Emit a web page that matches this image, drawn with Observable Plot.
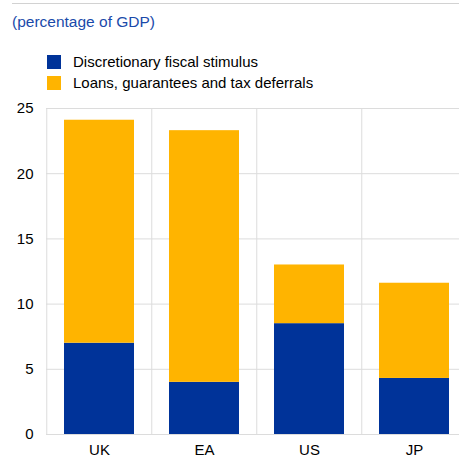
<!DOCTYPE html>
<html>
<head>
<meta charset="utf-8">
<script src="https://cdn.jsdelivr.net/npm/d3@7"></script>
<script src="https://cdn.jsdelivr.net/npm/@observablehq/plot@0.6"></script>
<style>
  html, body { margin: 0; padding: 0; background: #fff; overflow: hidden; }
  body { width: 459px; height: 459px; position: relative; font-family: "Liberation Sans", Arial, sans-serif; }
  #topline { position: absolute; left: 12px; width: 447px; top: 3px; height: 1px; background: #d2d2d2; }
  #subtitle { position: absolute; left: 12px; top: 13px; font-size: 15.5px; color: #1a4aaa; }
  #legend { position: absolute; left: 47px; top: 51px; font-size: 15px; color: #000; }
  .item { display: flex; align-items: center; height: 21.3px; }
  .sw { width: 14px; height: 14px; margin-right: 12px; }
  #chart { position: absolute; left: 0; top: 95px; width: 459px; height: 364px; overflow: hidden; }
</style>
</head>
<body>
<div id="topline"></div>
<div id="subtitle">(percentage of GDP)</div>
<div id="legend"></div>
<div id="chart"></div>
<script>
const countries = ["UK", "EA", "US", "JP"];
const seriesNames = ["Discretionary fiscal stimulus", "Loans, guarantees and tax deferrals"];
const stimulus = [7.0, 4.0, 8.5, 4.3];
const loans = [17.1, 19.3, 4.5, 7.3];
const colors = ["#003399", "#ffb400"];
const yTicks = [0, 5, 10, 15, 20, 25];

const data = [];
countries.forEach((c, i) => {
  data.push({country: c, series: seriesNames[0], value: stimulus[i]});
  data.push({country: c, series: seriesNames[1], value: loans[i]});
});

const legend = document.getElementById("legend");
seriesNames.forEach((s, i) => {
  const it = document.createElement("div");
  it.className = "item";
  it.innerHTML = `<div class="sw" style="background:${colors[i]}"></div><span>${s}</span>`;
  legend.appendChild(it);
});

const W = 459, H = 364, mL = 46, mR = -9;
const step = (W - mL - mR) / countries.length;

const chart = Plot.plot({
  width: W,
  height: H,
  marginLeft: mL,
  marginRight: mR,
  marginTop: 13,
  marginBottom: 25,
  style: {fontFamily: "Liberation Sans, Arial, sans-serif", fontSize: "15px", color: "#000", background: "#fff"},
  x: {domain: countries, paddingInner: 0.33, paddingOuter: 0.165, label: null, tickSize: 0, tickPadding: 10},
  y: {domain: [0, 25], ticks: yTicks, label: null, tickSize: 0, tickPadding: 13},
  color: {domain: seriesNames, range: colors},
  marks: [
    Plot.ruleY(yTicks, {stroke: "#dcdcdc", strokeWidth: 1}),
    Plot.ruleX(countries, {x: d => d, dx: -step / 2, stroke: "#dcdcdc", strokeWidth: 1}),
    Plot.barY(data, {x: "country", y: "value", fill: "series"}),
    Plot.axisY({ticks: yTicks, tickSize: 0, tickPadding: 13, fill: "#000"}),
    Plot.axisX({tickSize: 0, tickPadding: 10, fill: "#000"})
  ]
});
document.getElementById("chart").appendChild(chart);
</script>
</body>
</html>
